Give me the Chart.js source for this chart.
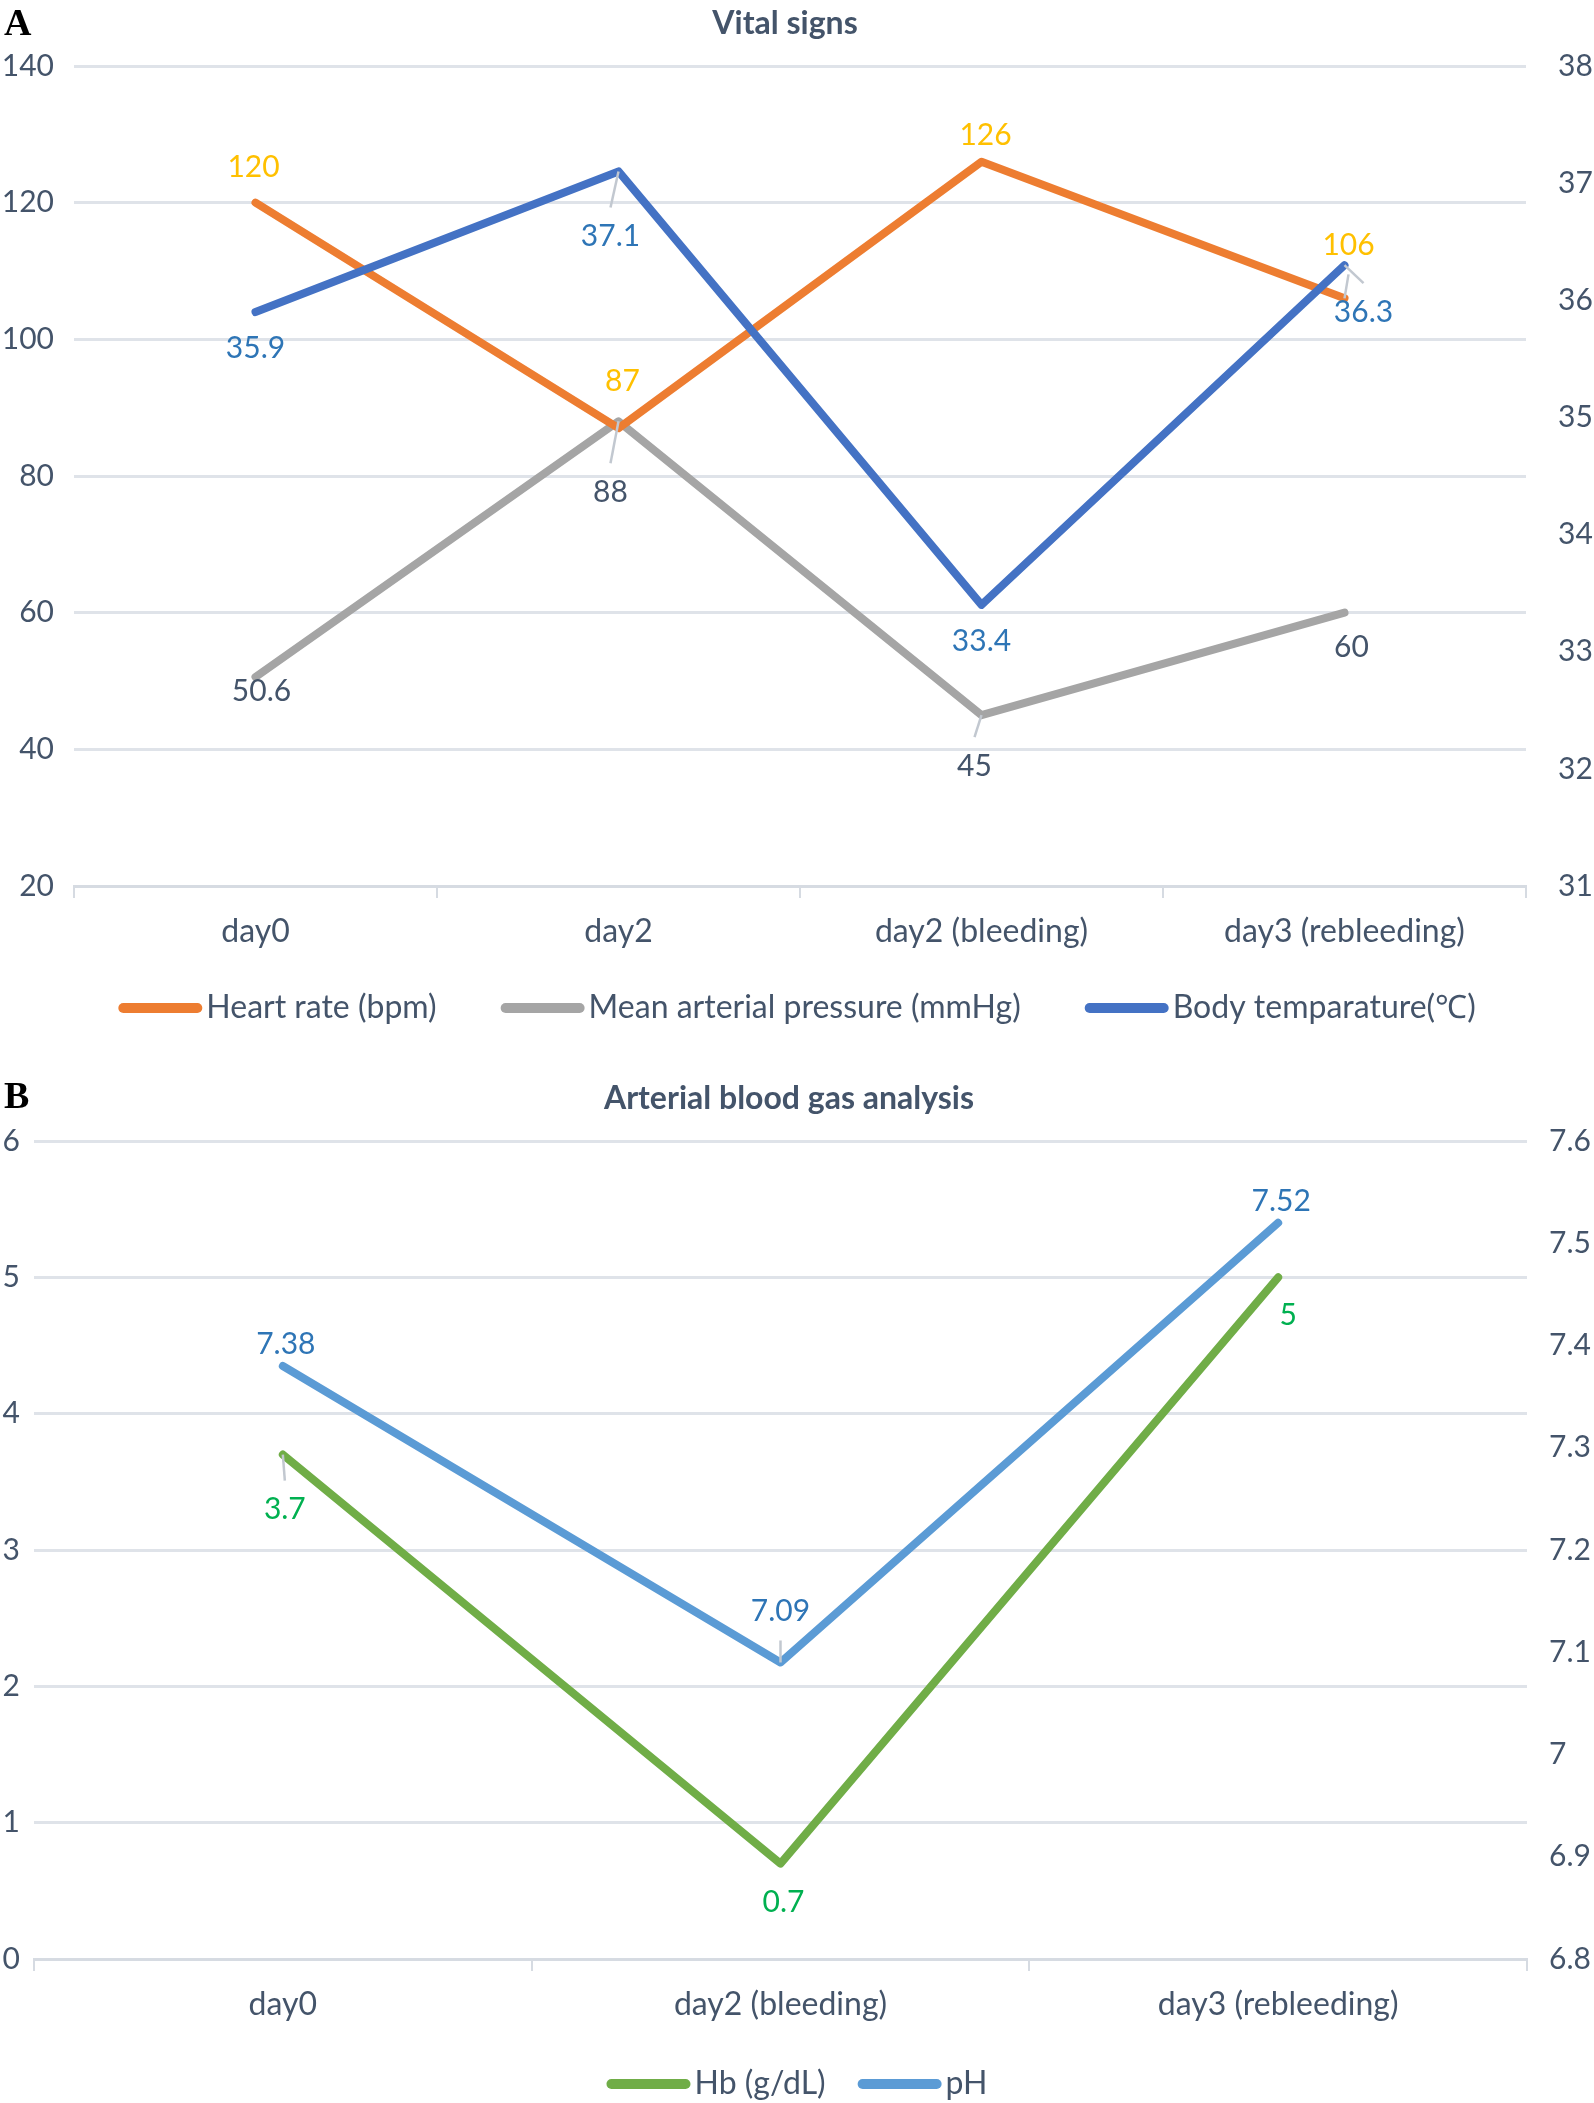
<!DOCTYPE html>
<html>
<head>
<meta charset="utf-8">
<script src="https://cdn.jsdelivr.net/npm/chart.js@4.4.1/dist/chart.umd.min.js"></script>
<style>
  html, body { margin: 0; padding: 0; background: #fff; }
  body { width: 1594px; height: 2103px; position: relative; overflow: hidden; }
  .panel { position: absolute; left: 0; width: 1594px; }
  .panel canvas { display: block; }
  .tag { position: absolute; left: 4px; font: bold 38px "Liberation Serif", serif; line-height: 38px; color: #000; }
</style>
</head>
<body>
<div class="panel" style="top:0;height:1050px"><canvas id="chartA" width="1594" height="1050"></canvas></div>
<div class="panel" style="top:1050px;height:1053px"><canvas id="chartB" width="1594" height="1053"></canvas></div>
<div class="tag" style="top:3px">A</div>
<div class="tag" style="top:1076px">B</div>

<script>
// ---- data: panel A (vital signs)
const daysA = ['day0', 'day2', 'day2 (bleeding)', 'day3 (rebleeding)'];
const heartRate = [120, 87, 126, 106];
const meanArterialPressure = [50.6, 88, 45, 60];
const bodyTemp = [35.9, 37.1, 33.4, 36.3];
const leftTicksA = [20, 140, 20];     // min, max, step
const rightTicksA = [31, 38, 1];

// ---- data: panel B (arterial blood gas)
const daysB = ['day0', 'day2 (bleeding)', 'day3 (rebleeding)'];
const hemoglobin = [3.7, 0.7, 5];
const phValues = [7.38, 7.09, 7.52];
const leftTicksB = [0, 6, 1];
const rightTicksB = [6.8, 7.6, 0.1];

// label placement (px offsets from the point, like Excel's hand-moved labels)
const hrLabelPos = { dx: [-2, 4, 4, 4], dy: [-35, -47, -26, -53], leader: [false, false, false, true] };
const mapLabelPos = { dx: [6, -8, -7, 7], dy: [14, 71, 51, 35], leader: [false, true, true, false] };
const tempLabelPos = { dx: [0, -8, 0, 19], dy: [36, 65, 36, 47], leader: [false, true, false, true] };
const hbLabelPos = { dx: [2, 3, 10], dy: [55, 39, 38], leader: [true, false, false] };
const phLabelPos = { dx: [3, 0, 3], dy: [-22, -51, -21], leader: [false, true, false] };

const TEXT = '#44546A';
const GRID = '#DFE3E9';
const FONT = 'Lato';
const NUM_SIZE = 30;   // tick numbers and data labels
const WORD_SIZE = 32;  // category names and legend
Chart.defaults.font.family = FONT;
Chart.defaults.font.size = NUM_SIZE;
Chart.defaults.color = TEXT;

// data labels with leader lines
const valueLabels = {
  id: 'valueLabels',
  afterDatasetsDraw(chart) {
    const ctx = chart.ctx;
    ctx.save();
    const jobs = [];
    chart.data.datasets.forEach((ds, i) => {
      const st = ds.labelPos;
      if (!st) return;
      chart.getDatasetMeta(i).data.forEach((pt, j) => {
        const lx = pt.x + st.dx[j], ly = pt.y + st.dy[j];
        if (st.leader[j]) {
          const dir = st.dy[j] > 0 ? -1 : 1;
          ctx.strokeStyle = '#C2C8D0';
          ctx.lineWidth = 2.5;
          ctx.beginPath();
          ctx.moveTo(pt.x, pt.y);
          ctx.lineTo(lx, ly + dir * 29);
          ctx.stroke();
        }
        jobs.push({ text: String(ds.data[j]), x: lx, y: ly, color: ds.labelColor });
      });
    });
    ctx.font = NUM_SIZE + 'px ' + FONT;
    ctx.textAlign = 'center';
    ctx.textBaseline = 'middle';
    jobs.forEach(l => { ctx.fillStyle = l.color; ctx.fillText(l.text, l.x, l.y); });
    ctx.restore();
  }
};

// title placed where Excel put it (a little left of centre)
const panelTitle = {
  id: 'panelTitle',
  afterDraw(chart, args, opts) {
    const ctx = chart.ctx;
    ctx.save();
    ctx.font = 'bold 32px ' + FONT;
    ctx.fillStyle = TEXT;
    ctx.textAlign = 'center';
    ctx.textBaseline = 'middle';
    ctx.fillText(opts.text, opts.x, opts.y);
    ctx.restore();
  }
};

// Excel-like legend: thick rounded line, text right after it
const lineLegend = {
  id: 'lineLegend',
  afterDraw(chart, args, opts) {
    const ctx = chart.ctx;
    ctx.save();
    ctx.font = WORD_SIZE + 'px ' + FONT;
    const boxW = 84, boxH = 10, textGap = 4;
    const items = chart.data.datasets.map(ds => ({ text: ds.label, color: ds.borderColor, w: ctx.measureText(ds.label).width }));
    const total = items.reduce((s, it) => s + boxW + textGap + it.w, 0) + opts.gap * (items.length - 1);
    let x = (chart.width - total) / 2;
    ctx.textAlign = 'left';
    ctx.textBaseline = 'middle';
    items.forEach(it => {
      ctx.fillStyle = it.color;
      ctx.beginPath();
      ctx.roundRect(x, opts.y - boxH / 2, boxW, boxH, boxH / 2);
      ctx.fill();
      x += boxW + textGap;
      ctx.fillStyle = TEXT;
      ctx.fillText(it.text, x, opts.y);
      x += it.w + opts.gap;
    });
    ctx.restore();
  }
};

function lineSet(label, data, color, labelColor, labelPos, order, axis) {
  return {
    label, data, order, yAxisID: axis,
    borderColor: color, backgroundColor: color,
    borderWidth: 8, borderCapStyle: 'round', borderJoinStyle: 'round',
    pointRadius: 0, pointHoverRadius: 0, tension: 0, fill: false,
    labelColor, labelPos
  };
}

function buildOptions(cfg) {
  return {
    responsive: false,
    animation: false,
    events: [],
    devicePixelRatio: 1,
    layout: { padding: { left: 0, right: 0, top: cfg.padTop, bottom: cfg.padBottom } },
    plugins: {
      legend: { display: false },
      tooltip: { enabled: false },
      title: { display: false },
      panelTitle: { text: cfg.title, x: cfg.titleX, y: cfg.titleY },
      lineLegend: { y: cfg.legendY, gap: cfg.legendGap }
    },
    scales: {
      x: {
        type: 'category', offset: true,
        grid: { offset: true, drawOnChartArea: false, drawTicks: true, tickLength: 12, color: '#D6DBE2', lineWidth: 2 },
        border: { display: true, color: '#D6DBE2', width: 3 },
        ticks: { padding: 14, color: TEXT, font: { size: WORD_SIZE }, maxRotation: 0, autoSkip: false },
        afterFit: s => { s.height = 80; }
      },
      y: {
        position: 'left',
        min: cfg.left[0], max: cfg.left[1],
        ticks: { stepSize: cfg.left[2], padding: cfg.leftPad, color: TEXT, font: { size: NUM_SIZE } },
        grid: { color: GRID, lineWidth: 3, drawTicks: false },
        border: { display: false },
        afterFit: s => { s.width = cfg.leftW; }
      },
      y1: {
        position: 'right',
        min: cfg.right[0], max: cfg.right[1],
        ticks: {
          stepSize: cfg.right[2], padding: cfg.rightPad, color: TEXT, font: { size: NUM_SIZE },
          callback: v => String(Math.round(v * 100) / 100)
        },
        grid: { display: false, drawTicks: false },
        border: { display: false },
        afterFit: s => { s.width = cfg.rightW; }
      }
    }
  };
}

new Chart(document.getElementById('chartA'), {
  type: 'line',
  data: {
    labels: daysA,
    datasets: [
      lineSet('Heart rate (bpm)', heartRate, '#ED7D31', '#FFC000', hrLabelPos, 1, 'y'),
      lineSet('Mean arterial pressure (mmHg)', meanArterialPressure, '#A5A5A5', TEXT, mapLabelPos, 2, 'y'),
      lineSet('Body temparature(\u2103)', bodyTemp, '#4472C4', '#2E75B6', tempLabelPos, 0, 'y1')
    ]
  },
  options: buildOptions({
    title: 'Vital signs', titleX: 785, titleY: 24,
    padTop: 66, padBottom: 84, legendY: 1008, legendGap: 64,
    left: leftTicksA, right: rightTicksA,
    leftW: 74, leftPad: 20, rightW: 68, rightPad: 32
  }),
  plugins: [valueLabels, panelTitle, lineLegend]
});

new Chart(document.getElementById('chartB'), {
  type: 'line',
  data: {
    labels: daysB,
    datasets: [
      lineSet('Hb (g/dL)', hemoglobin, '#70AD47', '#00B050', hbLabelPos, 1, 'y'),
      lineSet('pH', phValues, '#5B9BD5', '#2E75B6', phLabelPos, 0, 'y1')
    ]
  },
  options: buildOptions({
    title: 'Arterial blood gas analysis', titleX: 789, titleY: 49,
    padTop: 91, padBottom: 64, legendY: 1034, legendGap: 32,
    left: leftTicksB, right: rightTicksB,
    leftW: 34, leftPad: 14, rightW: 67, rightPad: 22
  }),
  plugins: [valueLabels, panelTitle, lineLegend]
});
</script>
</body>
</html>
